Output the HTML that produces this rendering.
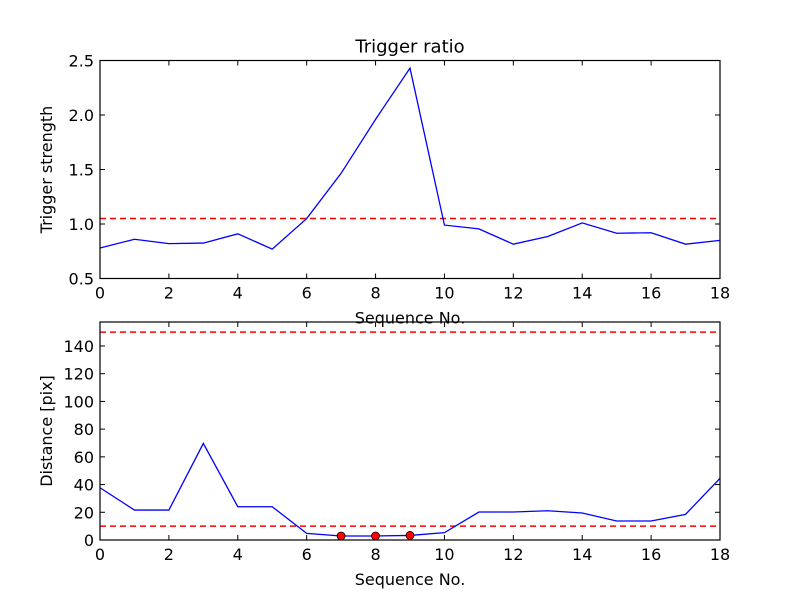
<!DOCTYPE html>
<html><head><meta charset="utf-8"><style>
body{margin:0;background:#fff}
svg{display:block;font-family:"DejaVu Sans","Liberation Sans",sans-serif}
</style></head><body>
<svg id="c" width="800" height="600"></svg>
<script>
const seq=[0,1,2,3,4,5,6,7,8,9,10,11,12,13,14,15,16,17,18];
const strength=[0.78,0.86,0.82,0.825,0.91,0.77,1.05,1.465,1.96,2.43,0.99,0.955,0.815,0.885,1.01,0.915,0.92,0.815,0.85];
const strengthThresh=1.05;
const distance=[37.7,21.6,21.6,69.7,24,24,4.8,2.9,2.9,3.3,5.3,20.2,20.2,21.1,19.5,13.7,13.7,18.5,44.5];
const distThresh=[150,10];
const markedIdx=[7,8,9];
const xTicks=[0,2,4,6,8,10,12,14,16,18];
const yTicksTop=[0.5,1.0,1.5,2.0,2.5];
const yTicksBot=[0,20,40,60,80,100,120,140];
const NS="http://www.w3.org/2000/svg";
const svg=document.getElementById('c');
function mk(t,a,p){const e=document.createElementNS(NS,t);for(const k in a)e.setAttribute(k,a[k]);(p||svg).appendChild(e);return e;}
const L=100,R=720;
const sx=v=>L+(v-0)/(18-0)*(R-L);
function panel(top,bot,ymin,ymax,ticks,fmt,name,ylabel,title){
  const sy=v=>bot-(v-ymin)/(ymax-ymin)*(bot-top);
  const g=mk('g',{});
  
  
  xTicks.forEach(t=>{
    const x=sx(t);
    mk('line',{x1:x,x2:x,y1:bot,y2:bot-5,stroke:'#000'},g);
    mk('line',{x1:x,x2:x,y1:top,y2:top+5,stroke:'#000'},g);
    const tx=mk('text',{x:x,y:bot+20,'text-anchor':'middle','font-size':16},g);
    tx.textContent=t;
    
    
  });
  ticks.forEach(t=>{
    const y=sy(t);
    mk('line',{x1:L,x2:L+5,y1:y,y2:y,stroke:'#000'},g);
    mk('line',{x1:R,x2:R-5,y1:y,y2:y,stroke:'#000'},g);
    const tx=mk('text',{x:L-6,y:y+6,'text-anchor':'end','font-size':16},g);
    tx.textContent=fmt(t);
    
    
  });
  const xl=mk('text',{x:(L+R)/2,y:bot+45,'text-anchor':'middle','font-size':16},g);
  xl.textContent='Sequence No.';
  
  
  const cy=(top+bot)/2;
  const yl=mk('text',{x:0,y:0,'text-anchor':'middle','font-size':16,transform:`translate(${L-48},${cy}) rotate(-90)`},g);
  yl.textContent=ylabel;
  
  
  if(title){const tt=mk('text',{x:(L+R)/2,y:top-8,'text-anchor':'middle','font-size':18},g);tt.textContent=title;
    
    }
  return {g,sy};
}
// top
const p1=panel(60.5,278.5,0.5,2.5,yTicksTop,v=>v.toFixed(1),'trigger-panel','Trigger strength','Trigger ratio');
const th1=mk('line',{x1:L,x2:R,y1:p1.sy(strengthThresh),y2:p1.sy(strengthThresh),stroke:'#f00','stroke-width':1.5,'stroke-dasharray':'6,4'},p1.g);


const l1=mk('polyline',{points:seq.map((s,i)=>sx(s)+','+p1.sy(strength[i])).join(' '),fill:'none',stroke:'#00f','stroke-width':1.3},p1.g);


mk('rect',{x:L,y:60.5,width:R-L,height:218,fill:'none',stroke:'#000','stroke-width':1.2},p1.g);
// bottom
const p2=panel(322,540,0,157.3,yTicksBot,v=>v,'distance-panel','Distance [pix]',null);
distThresh.forEach(t=>{
  const d=mk('line',{x1:L,x2:R,y1:p2.sy(t),y2:p2.sy(t),stroke:'#f00','stroke-width':1.5,'stroke-dasharray':'6,4'},p2.g);
  
  
});
const l2=mk('polyline',{points:seq.map((s,i)=>sx(s)+','+p2.sy(distance[i])).join(' '),fill:'none',stroke:'#00f','stroke-width':1.3},p2.g);


markedIdx.forEach(i=>{
  const c=mk('circle',{cx:sx(seq[i]),cy:p2.sy(distance[i]),r:4,fill:'#f00',stroke:'#000','stroke-width':0.8},p2.g);
  
  
});
mk('rect',{x:L,y:322,width:R-L,height:218,fill:'none',stroke:'#000','stroke-width':1.2},p2.g);
</script>
</body></html>
